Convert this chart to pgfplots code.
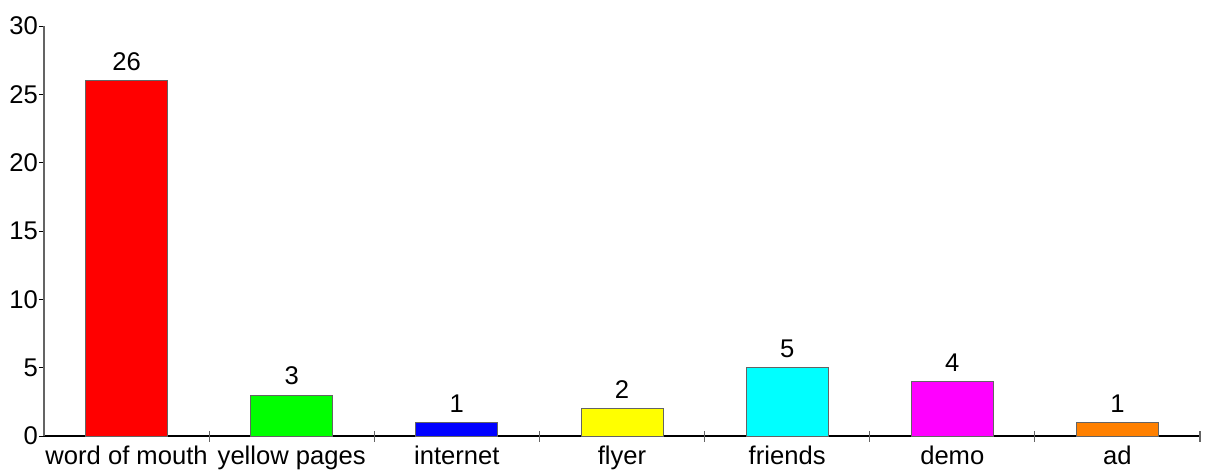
\documentclass[border=0pt]{standalone}
\usepackage{pgfplots}
\pgfplotsset{compat=1.18}
\usepackage{fontspec}
\setmainfont{Liberation Sans}
\newcommand\chartfont{\fontsize{12.8}{15}\selectfont}
\definecolor{barred}{RGB}{255,0,0}
\definecolor{bargreen}{RGB}{0,255,0}
\definecolor{barblue}{RGB}{0,0,255}
\definecolor{baryellow}{RGB}{255,255,0}
\definecolor{barcyan}{RGB}{0,255,255}
\definecolor{barmagenta}{RGB}{255,0,255}
\definecolor{barorange}{RGB}{255,128,0}
\definecolor{edge}{RGB}{100,100,100}
\begin{document}
\begin{tikzpicture}
\useasboundingbox (-22pt,-18.5pt) rectangle (581.5pt,218pt);
\begin{axis}[
  at={(0pt,0pt)}, anchor=south west,
  scale only axis, width=578pt, height=205pt,
  xmin=-0.5, xmax=6.5, ymin=0, ymax=30,
  axis x line=bottom, axis y line=left,
  axis line style={-},
  x axis line style={black, line width=0.6pt},
  y axis line style={edge, line width=0.9pt},
  ytick={0,5,...,30},
  ytick style={black, line width=0.5pt},
  tick align=outside, major tick length=2.5pt,
  xtick={0,...,6},
  xticklabels={word of mouth,yellow pages,internet,flyer,friends,demo,ad},
  xtick style={draw=none},
  extra x ticks={0.5,1.5,2.5,3.5,4.5,5.5,6.5},
  extra x tick labels={},
  extra x tick style={tick align=center, major tick length=5.5pt,
    xtick style={draw=edge, line width=0.6pt}},
  /pgf/number format/assume math mode=true,
  tick label style={font=\chartfont},
  yticklabel style={xshift=3pt},
  xticklabel style={yshift=1pt},
  ybar, bar width=41pt, bar shift=0pt,
  nodes near coords,
  nodes near coords style={font=\chartfont, black, yshift=1.5pt},
  every axis plot/.append style={draw=edge, line width=0.5pt},
  clip=false,
]
\addplot[fill=barred] coordinates {(0,26)};
\addplot[fill=bargreen] coordinates {(1,3)};
\addplot[fill=barblue] coordinates {(2,1)};
\addplot[fill=baryellow] coordinates {(3,2)};
\addplot[fill=barcyan] coordinates {(4,5)};
\addplot[fill=barmagenta] coordinates {(5,4)};
\addplot[fill=barorange] coordinates {(6,1)};
\end{axis}
\end{tikzpicture}
\end{document}
